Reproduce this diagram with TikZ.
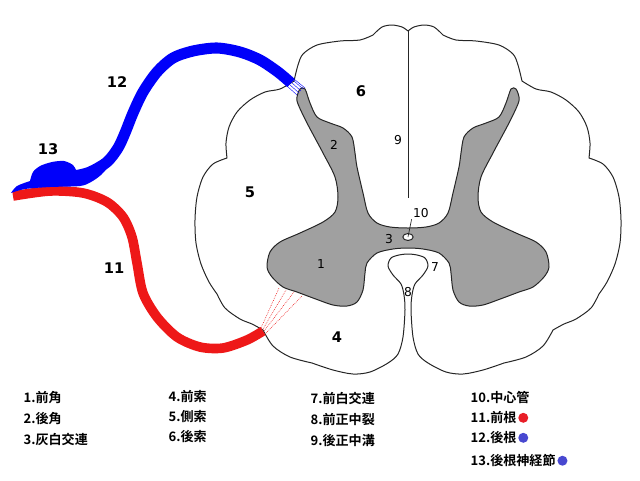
\documentclass[tikz,border=0pt]{standalone}
\usepackage{fontspec}
\setmainfont{DejaVu Sans}
\newfontfamily\cjk{Noto Sans CJK JP Bold}
\usetikzlibrary{positioning, shapes.geometric}
\definecolor{rootred}{RGB}{238,24,24}
\definecolor{rootblue}{RGB}{0,0,250}
\definecolor{greymatter}{RGB}{160,160,160}
\definecolor{dotred}{RGB}{232,30,40}
\definecolor{dotblue}{RGB}{72,72,208}

\begin{document}
\begin{tikzpicture}[x=0.75pt, y=-0.75pt, line join=round]
  \tikzstyle{cord}=[draw=black!85, line width=0.75pt]
  \tikzstyle{root}=[line width=7.2pt]
  \tikzstyle{big}=[font=\bfseries\fontsize{11}{13}\selectfont, inner sep=1pt]
  \tikzstyle{small}=[font=\fontsize{9.2}{11}\selectfont, inner sep=1pt]
  \tikzstyle{key}=[font=\cjk\fontsize{9.8}{12}\selectfont, anchor=west, inner sep=1pt]
  \tikzstyle{keydot}=[circle, inner sep=0pt, minimum size=7.5pt]
  \useasboundingbox (0,0) rectangle (640,480);

  % white matter
  \draw[cord]
    plot[smooth] coordinates {(408,31) (402,27) (392,25) (382,27) (373,35)}
    -- plot[smooth] coordinates {(373,35) (360,40) (340,41) (317,45) (303,54) (298,65) (294,81)}
    -- plot[smooth] coordinates {(294,81) (280,89) (265,92) (250,100) (237,112) (229,127) (226,143) (227,158)}
    -- plot[smooth] coordinates {(227,158) (213,164) (203,177) (197,197) (195,220) (196,243) (201,264) (209,282) (217,294)}
    -- plot[smooth] coordinates {(217,294) (225,308) (240,319) (252,324) (263,330)}
    -- plot[smooth] coordinates {(263,330) (273,346) (290,357) (312,363)}
    -- plot[smooth] coordinates {(312,363) (333,370) (353,374) (370,372) (388,363) (398,354) (403,337) (405,310)
         (404,295) (401,284) (393,275) (388,266) (391,258) (399,255) (408,254) (417,255) (425,258) (428,266)
         (423,275) (415,284) (412,295) (411,310) (413,337) (418,354) (428,363) (446,372) (463,374) (483,370) (504,363)}
    -- plot[smooth] coordinates {(504,363) (526,357) (543,346) (553,330)}
    -- plot[smooth] coordinates {(553,330) (564,324) (576,319) (591,308) (599,294)}
    -- plot[smooth] coordinates {(599,294) (607,282) (615,264) (620,243) (621,220) (619,197) (613,177) (603,164) (589,158)}
    -- plot[smooth] coordinates {(589,158) (590,143) (587,127) (579,112) (566,100) (551,92) (536,89) (522,81)}
    -- plot[smooth] coordinates {(522,81) (518,65) (513,54) (499,45) (476,41) (456,40) (443,35)}
    -- plot[smooth] coordinates {(443,35) (434,27) (424,25) (414,27) (408,31)}
    -- cycle;
  \draw[cord] (408,31) -- (408,198);

  % grey matter
  \filldraw[cord, fill=greymatter] plot[smooth cycle] coordinates {
    (408,228) (390,227) (377,223) (368,213) (363,193) (357,167) (355,153) (352,137) (343,128) (330,123)
    (317,117) (310,103) (305,89) (300,89) (297,97) (298,104) (307,123) (323,153) (335,177) (338,197)
    (335,212) (323,222) (300,233) (280,242) (270,252) (267,267) (272,277) (283,287) (297,292) (313,298)
    (333,305) (347,306) (357,302) (363,290) (365,273) (367,263) (377,253) (393,249) (408,248)
    (423,249) (439,253) (449,263) (451,273) (453,290) (459,302) (469,306) (483,305) (503,298) (519,292)
    (533,287) (544,277) (549,267) (546,252) (536,242) (516,233) (493,222) (481,212) (478,197) (481,177)
    (493,153) (509,123) (518,104) (519,97) (516,89) (511,89) (506,103) (499,117) (486,123) (473,128)
    (464,137) (461,153) (459,167) (453,193) (448,213) (439,223) (426,227)};
  \node[cord, ellipse, fill=white, minimum width=7.8pt, minimum height=5.2pt, inner sep=0pt] (cc) at (408,237) {};

  % roots
  \draw[root, rootred] plot[smooth] coordinates {(13,196) (50,191) (83,193) (107,202) (123,217) (132,237)
    (137,263) (143,293) (157,317) (177,337) (200,347) (223,348) (247,340) (263,331)};
  \draw[root, rootblue, line width=8.3pt] plot[smooth] coordinates {(291,83) (278,72) (260,60) (240,52) (217,48)
    (193,51) (173,58) (157,72) (143,92) (133,113) (125,133) (118,148) (107,162) (90,172) (75,176)};
  \fill[rootblue] plot[smooth] coordinates {(11,193) (17,186) (30,181)}
    -- plot[smooth] coordinates {(30,181) (33,172) (40,166) (52,162) (64,161) (73,165) (76,170)}
    -- plot[smooth] coordinates {(76,170) (88,169) (100,166)}
    -- plot[smooth] coordinates {(110,165) (101,175) (91,182) (80,186) (50,187) (25,189) (11,193)}
    -- cycle;

  % rootlets
  \draw[rootblue, line width=0.3pt] (287,86) -- (297,95);
  \draw[rootblue, line width=0.3pt] (289,84) -- (299,93);
  \draw[rootblue, line width=0.3pt] (291,82) -- (301,91);
  \draw[rootblue, line width=0.3pt] (293,80) -- (303,89);
  \draw[rootblue, line width=0.3pt] (294,79) -- (305,88);
  \draw[rootred, line width=0.4pt, dash pattern=on 0.6pt off 0.8pt] (261,328) -- (279,288);
  \draw[rootred, line width=0.4pt, dash pattern=on 0.6pt off 0.8pt] (263,329) -- (286,290);
  \draw[rootred, line width=0.4pt, dash pattern=on 0.6pt off 0.8pt] (264,331) -- (294,292);
  \draw[rootred, line width=0.4pt, dash pattern=on 0.6pt off 0.8pt] (266,333) -- (302,296);

  % numbers
  \node[small] (l1) at (321,264) {1};
  \node[small] (l2) at (334,145) {2};
  \node[small] (l3) at (389,239) {3};
  \node[big]   (l4) at (337,337) {4};
  \node[big]   (l5) at (250,192) {5};
  \node[big]   (l6) at (361,91)  {6};
  \node[small] (l7) at (435,267) {7};
  \node[small] (l8) at (408,292) {8};
  \node[small] (l9) at (398,140) {9};
  \node[small] (l10) at (421,213) {10};
  \node[big]   (l11) at (114,268) {11};
  \node[big]   (l12) at (117,82)  {12};
  \node[big]   (l13) at (48,149)  {13};
  \draw[black!85, line width=0.5pt] (l10.south west) -- (cc.center);

  % legend
  \node[key] (k1) at (22,398) {1.前角};
  \node[key, below=15.4pt of k1.west, anchor=west] (k2) {2.後角};
  \node[key, below=15.4pt of k2.west, anchor=west] (k3) {3.灰白交連};
  \node[key] (k4) at (167,397) {4.前索};
  \node[key, below=15pt of k4.west, anchor=west] (k5) {5.側索};
  \node[key, below=15pt of k5.west, anchor=west] (k6) {6.後索};
  \node[key] (k7) at (309,399) {7.前白交連};
  \node[key, below=15.4pt of k7.west, anchor=west] (k8) {8.前正中裂};
  \node[key, below=15.4pt of k8.west, anchor=west] (k9) {9.後正中溝};
  \node[key] (k10) at (469,397) {10.中心管};
  \node[key, below=15.6pt of k10.west, anchor=west] (k11) {11.前根};
  \node[key, below=15pt of k11.west, anchor=west] (k12) {12.後根};
  \node[key, below=17.2pt of k12.west, anchor=west] (k13) {13.後根神経節};
  \node[keydot, fill=dotred, right=0pt of k11] (d11) {};
  \node[keydot, fill=dotblue, right=0pt of k12] (d12) {};
  \node[keydot, fill=dotblue, right=0pt of k13] (d13) {};
\end{tikzpicture}
\end{document}
